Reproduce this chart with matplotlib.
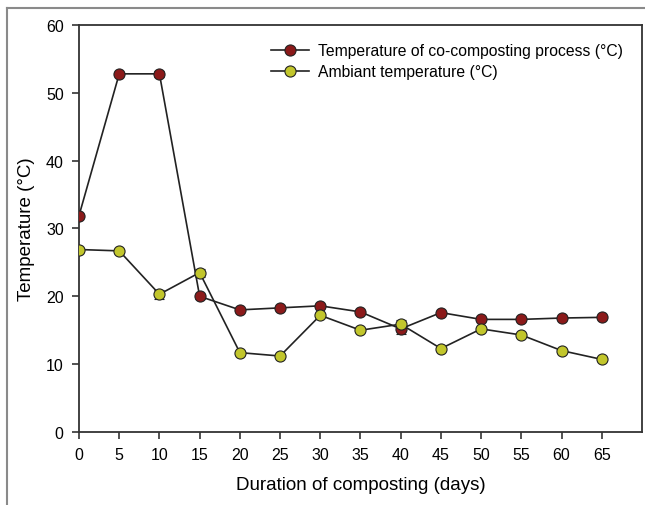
import numpy as np
import matplotlib
matplotlib.use("Agg")
import matplotlib.pyplot as plt
from matplotlib.lines import Line2D

plt.rcParams['font.family'] = ['Liberation Sans', 'DejaVu Sans']

days = [0, 5, 10, 15, 20, 25, 30, 35, 40, 45, 50, 55, 60, 65]
compost_temp = [31.9, 52.8, 52.8, 20.0, 18.0, 18.3, 18.6, 17.7, 15.2, 17.6, 16.6, 16.6, 16.8, 16.9]
compost_err = [0.2, 0.2, 0.4, 0.4, 0.2, 0.2, 0.2, 0.2, 0.7, 0.2, 0.2, 0.2, 0.2, 0.2]
ambient_temp = [26.9, 26.7, 20.3, 23.5, 11.7, 11.2, 17.2, 15.0, 15.9, 12.3, 15.2, 14.3, 12.0, 10.7]
ambient_err = [0.2, 0.3, 0.7, 0.6, 0.2, 0.2, 0.2, 0.2, 0.6, 0.2, 0.2, 0.2, 0.2, 0.2]
labels = ['Temperature of co-composting process (°C)', 'Ambiant temperature (°C)']
colors = ['#8b1a1a', '#c2c62c']

fig = plt.figure(figsize=(6.45, 5.06), dpi=100)
ax = fig.add_axes([0.1225, 0.1443, 0.8728, 0.8043])

# outer frame lines (left and top only visible)
fig.add_artist(Line2D([7/645, 7/645], [0, 1 - 9/506], color='#8a8a8a', lw=1.5))
fig.add_artist(Line2D([7/645, 1], [1 - 9/506, 1 - 9/506], color='#8a8a8a', lw=1.5))

handles = []
for y, err, c, lab in zip([compost_temp, ambient_temp], [compost_err, ambient_err], colors, labels):
    ax.errorbar(days, y, yerr=err, color='#222222', lw=1.2,
                marker='o', ms=8, mfc=c, mec='#222222', mew=0.8,
                capsize=3.5, elinewidth=1.0, ecolor='#222222', zorder=3)
    handles.append(Line2D([], [], color='#222222', lw=1.2, marker='o', ms=8,
                          mfc=c, mec='#222222', mew=0.8, label=lab))

ax.set_xlim(0, 70)
ax.set_ylim(0, 60)
ax.set_xticks(np.arange(0, 70, 5))
ax.set_yticks(np.arange(0, 61, 10))
ax.tick_params(direction='out', length=5, width=1.2, color='#333333', labelsize=11.5, pad=6)
for s in ax.spines.values():
    s.set_color('#333333')
    s.set_linewidth(1.3)

ax.set_xlabel('Duration of composting (days)', fontsize=13.5, labelpad=10)
ax.set_ylabel('Temperature (°C)', fontsize=13.5, labelpad=8)

ax.legend(handles=handles, loc='upper left', bbox_to_anchor=(0.327, 0.975),
          frameon=False, fontsize=11.3, handlelength=2.4, handletextpad=0.6,
          labelspacing=0.4, borderpad=0)

fig.savefig('out.png', dpi=100)
